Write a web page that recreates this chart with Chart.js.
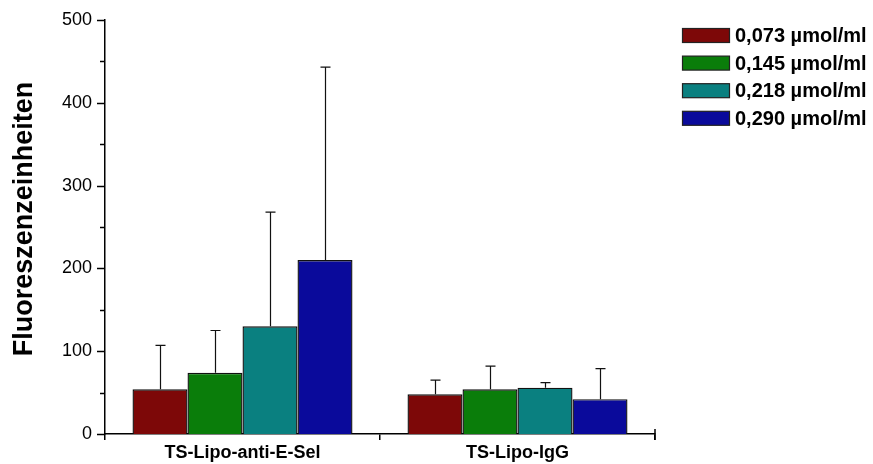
<!DOCTYPE html>
<html>
<head>
<meta charset="utf-8">
<script src="https://cdn.jsdelivr.net/npm/chart.js@4/dist/chart.umd.min.js"></script>
<style>
  html, body { margin: 0; padding: 0; background: #fff; }
  #wrap { width: 873px; height: 464px; }
</style>
</head>
<body>
<div id="wrap"><canvas id="chart" width="873" height="464"></canvas></div>
<script>
// data
const categories = ['TS-Lipo-anti-E-Sel', 'TS-Lipo-IgG'];
const seriesLabels = ['0,073 µmol/ml', '0,145 µmol/ml', '0,218 µmol/ml', '0,290 µmol/ml'];
const seriesColors = ['#7d0808', '#0a7d0a', '#0a8080', '#0a0a9b'];

const conc073 = [54, 48];
const conc145 = [74, 54];
const conc218 = [130, 56];
const conc290 = [210, 42];

const err073 = [53, 17];
const err145 = [51, 28];
const err218 = [138, 6];
const err290 = [233, 37];

const yTicks = [0, 100, 200, 300, 400, 500];
const yTitle = 'Fluoreszenzeinheiten';

const values = [conc073, conc145, conc218, conc290];
const errors = [err073, err145, err218, err290];

// up-only error bars, drawn from the bar top via the y scale
const errorBars = {
    id: 'errorBars',
    afterDatasetsDraw(chart) {
        const ctx = chart.ctx;
        const y = chart.scales.y;
        ctx.save();
        ctx.strokeStyle = '#111';
        ctx.lineWidth = 1.2;
        chart.data.datasets.forEach((ds, di) => {
            const meta = chart.getDatasetMeta(di);
            meta.data.forEach((bar, i) => {
                const top = y.getPixelForValue(ds.data[i] + ds.errors[i]);
                const x = Math.round(bar.x) + 0.5;
                ctx.beginPath();
                ctx.moveTo(x, bar.y);
                ctx.lineTo(x, top);
                ctx.moveTo(x - 5, top);
                ctx.lineTo(x + 5, top);
                ctx.stroke();
            });
        });
        ctx.restore();
    }
};

// y ticks (major + minor), y title and legend
const decorations = {
    id: 'decorations',
    afterDraw(chart) {
        const ctx = chart.ctx;
        const y = chart.scales.y;
        const area = chart.chartArea;
        ctx.save();
        ctx.strokeStyle = '#000';
        ctx.lineWidth = 1.5;
        for (let v = 0; v <= 500; v += 50) {
            const py = Math.round(y.getPixelForValue(v)) + 0.5;
            const len = v % 100 === 0 ? 8 : 5;
            ctx.beginPath();
            ctx.moveTo(area.left - len, py);
            ctx.lineTo(area.left, py);
            ctx.stroke();
        }
        // tick at right end of x axis, goes both ways
        ctx.beginPath();
        ctx.moveTo(area.right, area.bottom - 5);
        ctx.lineTo(area.right, area.bottom + 6);
        ctx.stroke();

        // axis title
        ctx.fillStyle = '#000';
        ctx.font = 'bold 27px "Liberation Sans", Arial, sans-serif';
        ctx.textAlign = 'center';
        ctx.textBaseline = 'alphabetic';
        ctx.translate(32, 219);
        ctx.rotate(-Math.PI / 2);
        ctx.fillText(yTitle, 0, 0);
        ctx.restore();

        // legend
        ctx.save();
        ctx.font = 'bold 20px "Liberation Sans", Arial, sans-serif';
        ctx.textAlign = 'left';
        ctx.textBaseline = 'middle';
        chart.data.datasets.forEach((ds, i) => {
            const cy = 35.5 + i * 27.6;
            ctx.fillStyle = ds.backgroundColor;
            ctx.fillRect(682, cy - 7, 47, 14);
            ctx.strokeStyle = '#222';
            ctx.lineWidth = 1.2;
            ctx.strokeRect(682.5, cy - 7, 47, 14);
            ctx.fillStyle = '#000';
            ctx.fillText(ds.label, 735, cy + 1);
        });
        ctx.restore();
    }
};

const ctx = document.getElementById('chart').getContext('2d');
new Chart(ctx, {
    type: 'bar',
    data: {
        labels: categories,
        datasets: seriesLabels.map((label, i) => ({
            label: label,
            data: values[i],
            errors: errors[i],
            backgroundColor: seriesColors[i],
            borderColor: '#111',
            borderWidth: 1.4,
            borderSkipped: 'bottom',
            categoryPercentage: 0.8,
            barPercentage: 1.0
        }))
    },
    options: {
        responsive: false,
        animation: false,
        layout: { padding: { left: 0, top: 20, right: 218, bottom: 0 } },
        plugins: {
            legend: { display: false },
            tooltip: { enabled: false }
        },
        scales: {
            x: {
                afterFit(scale) { scale.height = 30; },
                grid: {
                    display: true,
                    drawOnChartArea: false,
                    offset: true,
                    tickLength: 6,
                    color: '#000',
                    lineWidth: 1.5
                },
                border: { display: true, color: '#000', width: 1.5 },
                ticks: {
                    color: '#000',
                    padding: 2,
                    font: { family: '"Liberation Sans", Arial, sans-serif', size: 18, weight: 'bold' }
                }
            },
            y: {
                min: 0,
                max: 500,
                afterFit(scale) { scale.width = 105; },
                afterBuildTicks(scale) {
                    scale.ticks = yTicks.map(v => ({ value: v }));
                },
                grid: { display: false },
                border: { display: true, color: '#000', width: 1.5 },
                ticks: {
                    color: '#000',
                    padding: 5,
                    font: { family: '"Liberation Sans", Arial, sans-serif', size: 18 }
                }
            }
        }
    },
    plugins: [errorBars, decorations]
});
</script>
</body>
</html>
